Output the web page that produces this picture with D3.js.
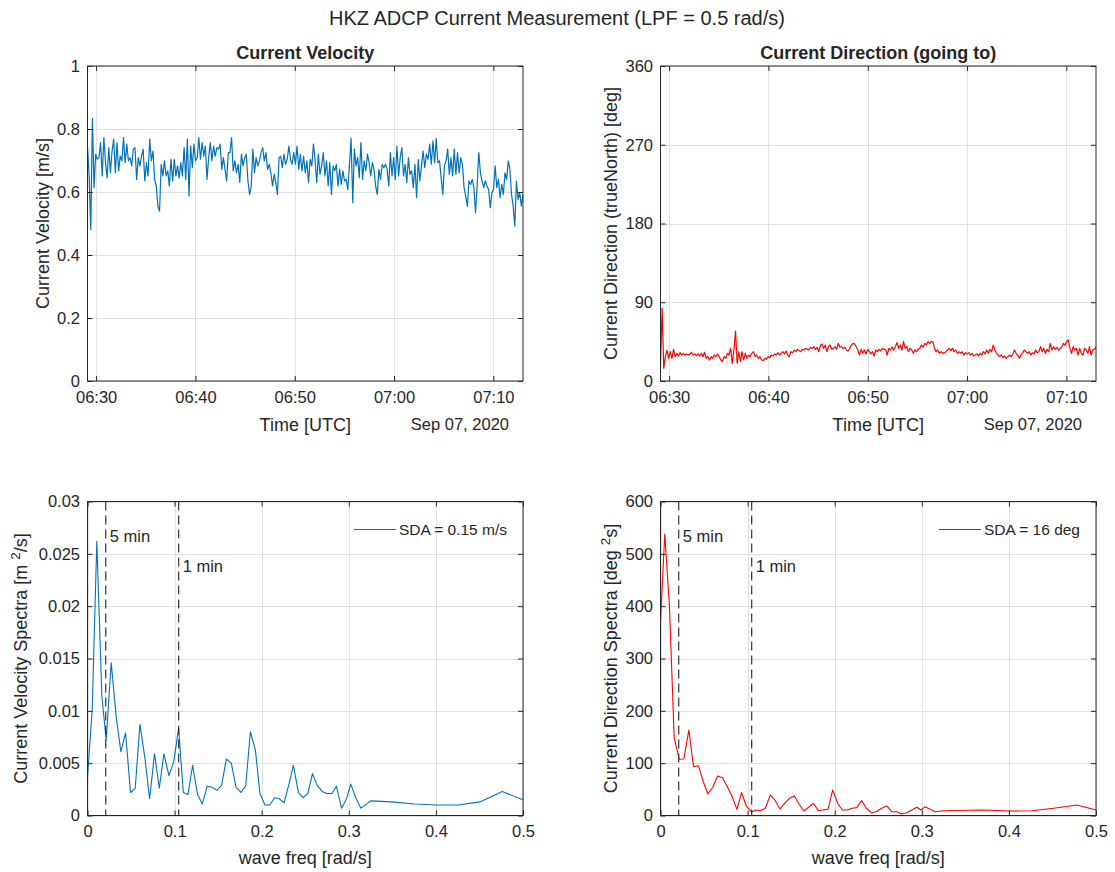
<!DOCTYPE html>
<html><head><meta charset="utf-8">
<script src="https://cdn.jsdelivr.net/npm/d3@7"></script>
<style>
body{margin:0;background:#fff;}
svg{display:block;font-family:"Liberation Sans",Arial,Helvetica,sans-serif;}
</style></head>
<body>
<svg id="chart" width="1115" height="872"></svg>
<script>
// ---------------- data ----------------
const timeStart = "2020-09-07T06:29:08Z";
const timeEnd   = "2020-09-07T07:12:59Z";
const timeTickLabels = ["06:30","06:40","06:50","07:00","07:10"];

const velocity = [0.746,0.651,0.481,0.834,0.614,0.720,0.704,0.709,0.757,0.651,0.773,0.693,0.645,0.741,0.661,0.730,0.768,0.661,0.757,0.667,0.714,0.699,0.773,0.693,0.752,0.699,0.709,0.683,0.736,0.741,0.640,0.709,0.683,0.714,0.736,0.635,0.693,0.651,0.768,0.699,0.730,0.640,0.619,0.555,0.539,0.688,0.651,0.699,0.651,0.667,0.619,0.704,0.635,0.704,0.651,0.683,0.645,0.693,0.651,0.741,0.640,0.768,0.587,0.746,0.677,0.752,0.699,0.709,0.773,0.704,0.757,0.714,0.746,0.640,0.709,0.757,0.699,0.746,0.714,0.741,0.736,0.752,0.672,0.709,0.672,0.635,0.725,0.725,0.773,0.667,0.699,0.661,0.688,0.630,0.720,0.683,0.709,0.720,0.635,0.592,0.619,0.736,0.661,0.709,0.683,0.699,0.725,0.741,0.699,0.725,0.672,0.688,0.661,0.619,0.656,0.630,0.592,0.709,0.714,0.677,0.720,0.688,0.704,0.746,0.704,0.688,0.725,0.688,0.746,0.672,0.720,0.667,0.714,0.661,0.699,0.630,0.704,
0.683,0.752,0.704,0.630,0.720,0.656,0.683,0.725,0.651,0.699,0.619,0.693,0.592,0.683,0.667,0.688,0.619,0.672,0.624,0.667,0.635,0.640,0.608,0.688,0.770,0.566,0.736,0.683,0.709,0.645,0.757,0.640,0.699,0.667,0.720,0.693,0.651,0.693,0.672,0.619,0.592,0.672,0.640,0.688,0.677,0.688,0.672,0.619,0.725,0.651,0.709,0.640,0.746,0.651,0.709,0.741,0.651,0.688,0.630,0.709,0.656,0.667,0.614,0.688,0.582,0.704,0.635,0.683,0.730,0.677,0.720,0.704,0.752,0.688,0.762,0.693,0.770,0.693,0.699,0.645,0.592,0.683,0.699,0.736,0.656,0.709,0.651,0.736,0.656,0.725,0.661,0.709,0.688,0.614,0.587,0.555,0.635,0.624,0.640,0.614,0.534,0.624,0.725,0.661,0.635,0.614,0.635,0.619,0.608,0.550,0.598,0.608,0.683,0.614,0.640,0.582,0.624,0.592,0.661,0.640,0.699,0.672,0.592,0.555,0.492,0.635,0.576,0.598,0.555,0.592];

const direction = [16.4,83.0,14.5,27.8,35.4,25.9,33.5,25.9,36.2,27.8,31.6,28.6,32.4,29.7,31.6,29.7,30.9,29.7,30.9,32.8,29.7,30.9,29.0,30.9,28.6,31.6,27.8,32.8,25.9,27.8,24.0,27.8,25.9,29.7,27.8,30.9,27.8,24.0,22.1,27.8,25.9,31.6,29.7,37.3,20.2,35.4,57.1,20.2,33.5,22.1,33.5,24.0,31.6,25.9,29.7,27.8,31.6,33.5,27.8,29.7,25.9,27.8,24.0,23.2,25.9,24.8,27.8,26.7,29.7,28.6,30.9,29.7,32.4,29.7,31.6,33.5,30.9,34.3,29.7,27.8,33.5,32.4,35.4,33.5,36.2,34.7,33.5,36.2,35.4,37.3,36.2,35.4,38.5,37.0,39.2,36.2,38.5,33.5,40.0,42.3,37.3,41.1,33.5,39.2,41.1,36.2,37.3,39.2,36.2,43.0,38.5,39.2,37.0,38.5,35.4,34.3,37.3,41.1,43.0,42.3,39.2,35.4,29.7,36.2,31.6,35.4,30.9,36.2,33.5,30.9,33.5,28.6,35.4,33.5,36.2,34.3,37.3,36.2,
36.2,29.7,37.3,35.4,39.2,35.4,39.2,43.8,37.3,41.1,35.4,45.0,37.3,39.2,33.5,37.3,35.4,31.6,35.4,33.5,36.2,37.3,41.1,38.5,43.0,41.1,45.0,43.0,45.0,45.0,37.3,33.5,35.4,31.6,33.5,31.6,32.4,33.5,35.4,37.3,34.7,37.3,33.5,35.4,31.6,33.5,31.6,33.5,29.7,32.4,30.9,32.4,29.7,31.6,28.6,29.7,30.9,28.6,31.6,29.7,33.5,30.9,35.4,31.6,36.2,33.5,41.1,35.4,31.6,29.7,27.8,29.7,26.7,28.6,25.9,27.8,29.7,27.8,30.9,35.4,31.6,29.7,25.9,29.7,31.6,35.4,33.5,31.6,33.5,29.7,32.4,30.9,35.4,32.4,33.5,39.2,33.5,37.3,31.6,36.2,33.5,43.0,35.4,39.2,36.2,38.5,35.4,37.3,39.2,43.0,41.1,45.0,46.9,37.3,31.6,39.2,35.4,37.3,29.7,37.3,31.6,29.7,37.3,35.4,31.6,39.2,29.7,35.4,36.2,39.2];

const velFreq = [0.0,0.0054,0.0107,0.0165,0.0215,0.0272,0.0330,0.0383,0.0437,0.0494,0.0548,0.0602,0.0659,0.0713,0.0770,0.0824,0.0877,0.0935,0.0989,0.1046,0.1100,0.1153,0.1207,0.1264,0.1318,0.1375,0.1429,0.1486,0.1540,0.1594,0.1651,0.1705,0.1762,0.1816,0.1870,0.1927,0.1980,0.2038,0.2092,0.2149,0.2203,0.2257,0.2310,0.2364,0.2421,0.2475,0.2529,0.2583,0.2636,0.2693,0.2750,0.2805,0.2858,0.2916,0.2974,0.3023,0.3080,0.3138,0.3253,0.3491,0.3751,0.4008,0.4257,0.4506,0.4762,0.5000];
const velSpec = [0.0037,0.0101,0.0262,0.0114,0.0072,0.0146,0.0094,0.0061,0.0079,0.0022,0.0026,0.0087,0.0055,0.0016,0.0059,0.0026,0.0059,0.0038,0.0051,0.0083,0.0022,0.0020,0.0048,0.0020,0.0011,0.0028,0.0027,0.0024,0.0029,0.0054,0.0050,0.0027,0.0022,0.0028,0.0080,0.0063,0.0021,0.0010,0.0010,0.0017,0.0016,0.0012,0.0029,0.0048,0.0022,0.0017,0.0021,0.0040,0.0029,0.0023,0.0021,0.0021,0.0028,0.0007,0.0016,0.0030,0.0017,0.0007,0.0014,0.0013,0.0011,0.0010,0.0010,0.0013,0.0023,0.0015];

const dirFreq = [0.0,0.0049,0.0103,0.0157,0.0215,0.0268,0.0326,0.0379,0.0437,0.0491,0.0544,0.0601,0.0655,0.0713,0.0767,0.0820,0.0877,0.0931,0.0985,0.1043,0.1095,0.1149,0.1203,0.1261,0.1318,0.1372,0.1425,0.1479,0.1537,0.1590,0.1647,0.1701,0.1755,0.1813,0.1866,0.1923,0.1977,0.2034,0.2088,0.2146,0.2199,0.2253,0.2310,0.2364,0.2422,0.2475,0.2540,0.2598,0.2655,0.2713,0.2770,0.2828,0.2885,0.2943,0.2992,0.3038,0.3095,0.3153,0.3249,0.3690,0.4026,0.4264,0.4514,0.4782,0.5000];
const dirSpec = [370.6,537.6,399,148.8,107.4,108,163.5,93.3,95,64.6,41.1,53.9,75.5,72.3,55.1,37.3,11.8,43.6,18.2,6.7,10.5,9.2,13.8,39.2,28.3,12.6,23.3,32.9,37.3,22,8.6,15.7,23.3,9.2,10.5,11.8,48.8,23.3,10.5,10.5,13.8,15,28.3,13.8,5.4,7.3,13.8,18.2,7.3,7.3,2.9,5.4,10.5,15.7,10.5,16.9,11.8,7.3,9.2,10.5,8.6,9.2,13.8,20.2,10.5];

const velTicks = [0,0.2,0.4,0.6,0.8,1];
const dirTicks = [0,90,180,270,360];
const freqTicks = [0,0.1,0.2,0.3,0.4,0.5];
const velSpecTicks = [0,0.005,0.01,0.015,0.02,0.025,0.03];
const dirSpecTicks = [0,100,200,300,400,500,600];
const periodMarks = [{label:"5 min", sec:300},{label:"1 min", sec:60}];
const legendVel = "SDA = 0.15 m/s";
const legendDir = "SDA = 16 deg";

// ---------------- layout ----------------
const TXT = "#262626", AX = "#262626", GRID = "#dfdfdf";
const BLUE = "#0072BD", RED = "#FF0000";
const TICKF = 16.5, LABF = 18;
const colX = [[87.5,523],[660.5,1096]];
const rowY = [[66,381],[501.5,815.5]];

const svg = d3.select("#chart");
svg.append("text").attr("x",557).attr("y",25).attr("text-anchor","middle")
  .attr("font-size",20).attr("fill",TXT).text("HKZ ADCP Current Measurement (LPF = 0.5 rad/s)");

const t0 = new Date(timeStart), t1 = new Date(timeEnd);
const timeTicks = timeTickLabels.map(s => new Date("2020-09-07T"+s+":00Z"));

function panel(opts){
  const [x0,x1] = opts.cx, [y0,y1] = opts.ry;
  const g = svg.append("g");
  const x = opts.x.range([x0,x1]);
  const y = opts.y.range([y1,y0]);
  g.selectAll(".gx").data(opts.xTicks).join("line")
    .attr("x1",d=>Math.round(x(d))+0.5).attr("x2",d=>Math.round(x(d))+0.5)
    .attr("y1",y0).attr("y2",y1).attr("stroke",GRID).attr("stroke-width",1);
  g.selectAll(".gy").data(opts.yTicks).join("line")
    .attr("y1",d=>Math.round(y(d))+0.5).attr("y2",d=>Math.round(y(d))+0.5)
    .attr("x1",x0).attr("x2",x1).attr("stroke",GRID).attr("stroke-width",1);
  const cid = "clip"+Math.round(x0)+"_"+Math.round(y0);
  g.append("clipPath").attr("id",cid).append("rect")
    .attr("x",x0).attr("y",y0).attr("width",x1-x0).attr("height",y1-y0);
  const plot = g.append("g").attr("clip-path",`url(#${cid})`);
  opts.draw(plot,x,y);
  const ax = (gen, tr) => {
    const a = g.append("g").attr("transform",tr).call(gen);
    a.select(".domain").remove();
    a.selectAll("line").attr("stroke",AX);
    a.selectAll("text").attr("fill",TXT).attr("font-size",TICKF).attr("font-family","Liberation Sans, Arial, sans-serif");
    return a;
  };
  ax(d3.axisBottom(x).tickValues(opts.xTicks).tickFormat(opts.xFmt).tickSizeInner(-5).tickSizeOuter(0).tickPadding(10), `translate(0,${y1})`);
  ax(d3.axisTop(x).tickValues(opts.xTicks).tickFormat("").tickSizeInner(-5).tickSizeOuter(0), `translate(0,${y0})`);
  ax(d3.axisLeft(y).tickValues(opts.yTicks).tickFormat(opts.yFmt).tickSizeInner(-5).tickSizeOuter(0).tickPadding(7.5), `translate(${x0},0)`);
  ax(d3.axisRight(y).tickValues(opts.yTicks).tickFormat("").tickSizeInner(-5).tickSizeOuter(0), `translate(${x1},0)`);
  g.append("rect").attr("x",x0).attr("y",y0).attr("width",x1-x0).attr("height",y1-y0)
    .attr("fill","none").attr("stroke",AX).attr("stroke-width",1);
  if(opts.title) g.append("text").attr("x",(x0+x1)/2).attr("y",y0-7).attr("text-anchor","middle")
    .attr("font-size",LABF).attr("font-weight","bold").attr("fill",TXT).text(opts.title);
  g.append("text").attr("x",(x0+x1)/2).attr("y",opts.xlabY).attr("text-anchor","middle")
    .attr("font-size",LABF).attr("fill",TXT).text(opts.xlabel);
  const yl = g.append("text").attr("transform",`translate(${opts.ylabX},${(y0+y1)/2}) rotate(-90)`)
    .attr("text-anchor","middle").attr("font-size",LABF).attr("fill",TXT);
  opts.ylabel.forEach(p => {
    const ts = yl.append("tspan").text(p.t);
    if(p.sup) ts.attr("font-size",LABF*0.75).attr("baseline-shift","super");
  });
  if(opts.extra) opts.extra(g,x,y);
  return {x,y};
}

function timeLine(values,color){
  return (plot,x,y)=>{
    const n = values.length, span = t1 - t0;
    const line = d3.line().x((d,i)=>x(new Date(+t0 + span*i/(n-1)))).y(d=>y(d));
    plot.append("path").datum(values).attr("d",line).attr("fill","none")
      .attr("stroke",color).attr("stroke-width",1.2).attr("stroke-linejoin","round");
  };
}
const dateLabel = (g,x,y)=>{
  g.append("text").attr("x",x.range()[1]-14).attr("y",430).attr("text-anchor","end")
    .attr("font-size",TICKF).attr("fill",TXT).text("Sep 07, 2020");
};

panel({cx:colX[0], ry:rowY[0], x:d3.scaleUtc().domain([t0,t1]), y:d3.scaleLinear().domain([0,1]),
  xTicks:timeTicks, yTicks:velTicks, xFmt:d3.utcFormat("%H:%M"), yFmt:d=>String(d),
  title:"Current Velocity", xlabel:"Time [UTC]", xlabY:431, ylabX:49,
  ylabel:[{t:"Current Velocity [m/s]"}], draw:timeLine(velocity,BLUE), extra:dateLabel});

panel({cx:colX[1], ry:rowY[0], x:d3.scaleUtc().domain([t0,t1]), y:d3.scaleLinear().domain([0,360]),
  xTicks:timeTicks, yTicks:dirTicks, xFmt:d3.utcFormat("%H:%M"), yFmt:d=>String(d),
  title:"Current Direction (going to)", xlabel:"Time [UTC]", xlabY:431, ylabX:617,
  ylabel:[{t:"Current Direction (trueNorth) [deg]"}], draw:timeLine(direction,RED), extra:dateLabel});

function specDraw(freq,spec,color){
  return (plot,x,y)=>{
    const line = d3.line().x((d,i)=>x(freq[i])).y(d=>y(d));
    plot.append("path").datum(spec).attr("d",line).attr("fill","none")
      .attr("stroke",color).attr("stroke-width",1.1).attr("stroke-linejoin","round");
  };
}
function specExtra(legendText,color){
  return (g,x,y)=>{
    const [y1,y0] = y.range();
    periodMarks.forEach((m,i)=>{
      const f = 2*Math.PI/m.sec, px = x(f);
      g.append("line").attr("x1",px).attr("x2",px).attr("y1",y0).attr("y2",y1)
        .attr("stroke","#222").attr("stroke-width",1.1).attr("stroke-dasharray","9,5");
      g.append("text").attr("x",px+4).attr("y",y0+34.5+(i?30.5:0)).attr("dy","0.35em")
        .attr("font-size",TICKF).attr("fill",TXT).text(m.label);
    });
    const xb = x.range()[1];
    const t = g.append("text").attr("x",xb-16).attr("y",y0+28).attr("dy","0.35em")
      .attr("text-anchor","end").attr("font-size",15.5).attr("fill",TXT).text(legendText);
    const tw = t.node().getComputedTextLength();
    const tx = xb - 16 - tw;
    g.append("line").attr("x1",tx-45).attr("x2",tx-3).attr("y1",y0+28).attr("y2",y0+28)
      .attr("stroke",color).attr("stroke-width",1.1);
  };
}

panel({cx:colX[0], ry:rowY[1], x:d3.scaleLinear().domain([0,0.5]), y:d3.scaleLinear().domain([0,0.03]),
  xTicks:freqTicks, yTicks:velSpecTicks, xFmt:d=>String(d), yFmt:d=>String(d),
  xlabel:"wave freq [rad/s]", xlabY:864, ylabX:27,
  ylabel:[{t:"Current Velocity Spectra [m "},{t:"2",sup:true},{t:"/s]"}],
  draw:specDraw(velFreq,velSpec,BLUE), extra:specExtra(legendVel,BLUE)});

panel({cx:colX[1], ry:rowY[1], x:d3.scaleLinear().domain([0,0.5]), y:d3.scaleLinear().domain([0,600]),
  xTicks:freqTicks, yTicks:dirSpecTicks, xFmt:d=>String(d), yFmt:d=>String(d),
  xlabel:"wave freq [rad/s]", xlabY:864, ylabX:617,
  ylabel:[{t:"Current Direction Spectra [deg "},{t:"2",sup:true},{t:"s]"}],
  draw:specDraw(dirFreq,dirSpec,RED), extra:specExtra(legendDir,RED)});
</script>
</body></html>
